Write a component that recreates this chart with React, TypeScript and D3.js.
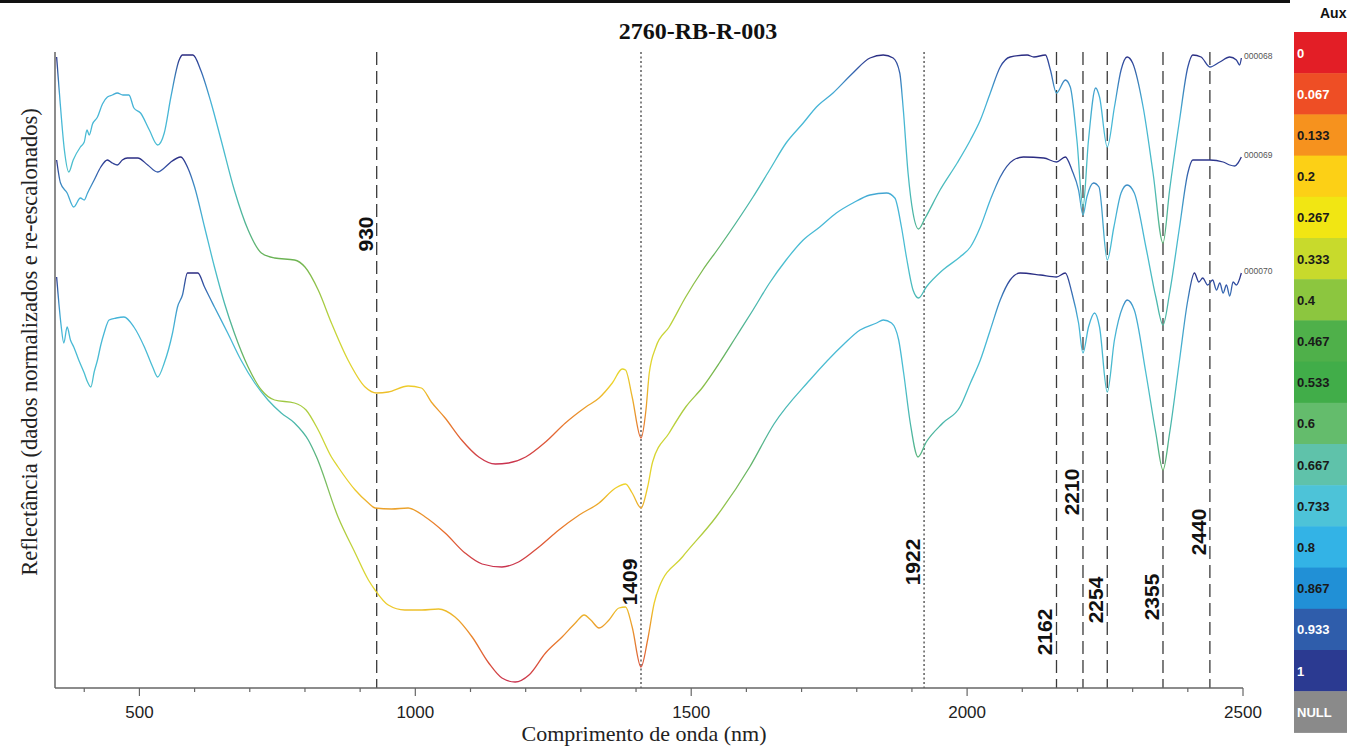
import React from 'react';
import * as d3 from 'd3';

// ---------- DATA ----------
const chartTitle = '2760-RB-R-003';
const xTitle = 'Comprimento de onda (nm)';
const yTitle = 'Reflectância (dados normalizados e re-escalonados)';

const xMajorTicks = [500, 1000, 1500, 2000, 2500];
const xMinorTicks = [400, 600, 700, 800, 900, 1100, 1200, 1300, 1400, 1600, 1700, 1800, 1900, 2100, 2200, 2300, 2400];

const dashedFeatures = [930, 2162, 2210, 2254, 2355, 2440];
const dottedFeatures = [1409, 1922];

const legendLabels = ['0', '0.067', '0.133', '0.2', '0.267', '0.333', '0.4', '0.467', '0.533', '0.6', '0.667', '0.733', '0.8', '0.867', '0.933', '1', 'NULL'];
const legendColors = ['#e31e26', '#ee4e25', '#f6921e', '#fcd016', '#f1e613', '#c8da2c', '#8cc63f', '#4fb04a', '#41ad49', '#64bc6c', '#5fc2aa', '#4dc3d8', '#33b3e6', '#2190d6', '#2f5dab', '#2b3a91', '#8a8a8a'];
const legendTitle = 'Aux';

const seriesNames = ['000068', '000069', '000070'];

// [wavelength nm, normalized + offset reflectance]
const spectrum068: [number, number][] = [
  [350, 631], [356, 588], [364, 538], [372, 516], [380, 528], [393, 541], [400, 546], [405, 558], [409, 553], [415, 564],
  [424, 571], [433, 584], [442, 591], [451, 593], [460, 595], [470, 593], [481, 593], [490, 580], [502, 575], [518, 558],
  [533, 543], [545, 555], [557, 591], [572, 628], [578, 633], [597, 633], [611, 618], [630, 585], [648, 548], [672, 498],
  [697, 458], [721, 435], [745, 430], [781, 428], [800, 421], [824, 398], [848, 365], [878, 328], [909, 301], [930, 295],
  [951, 296], [987, 302], [1011, 300], [1029, 286], [1054, 270], [1084, 248], [1115, 231], [1145, 224], [1169, 225], [1200, 231],
  [1236, 246], [1272, 265], [1309, 281], [1333, 290], [1357, 305], [1375, 319], [1381, 318], [1393, 291], [1409, 250], [1418, 278],
  [1424, 315], [1436, 341], [1460, 361], [1490, 391], [1521, 418], [1551, 441], [1581, 465], [1612, 491], [1642, 518], [1672, 545],
  [1703, 565], [1727, 581], [1757, 595], [1793, 615], [1824, 630], [1848, 633], [1866, 630], [1878, 615], [1884, 581], [1893, 515],
  [1902, 475], [1912, 459], [1924, 470], [1951, 498], [1982, 525], [2006, 548], [2024, 568], [2042, 595], [2060, 621], [2078, 631],
  [2109, 633], [2121, 631], [2142, 633], [2151, 618], [2162, 595], [2178, 608], [2187, 601], [2199, 548], [2210, 481], [2220, 548],
  [2233, 600], [2240, 591], [2254, 541], [2267, 581], [2279, 618], [2290, 631], [2300, 625], [2319, 581], [2337, 515], [2355, 445],
  [2367, 498], [2385, 568], [2400, 621], [2409, 633], [2424, 631], [2440, 621], [2458, 626], [2476, 631], [2488, 628], [2494, 623],
  [2497, 630],
];

const spectrum069: [number, number][] = [
  [350, 528], [357, 505], [369, 495], [381, 481], [393, 490], [400, 488], [406, 495], [418, 508], [430, 521], [442, 528],
  [451, 525], [460, 523], [469, 528], [478, 530], [497, 530], [515, 523], [533, 516], [545, 520], [557, 526], [575, 531],
  [587, 521], [600, 501], [618, 461], [636, 421], [654, 385], [672, 355], [697, 321], [721, 298], [745, 288], [781, 285],
  [802, 278], [824, 258], [848, 231], [860, 221], [891, 198], [915, 185], [927, 180], [957, 179], [987, 180], [1018, 171],
  [1054, 155], [1090, 135], [1121, 124], [1157, 121], [1187, 126], [1224, 141], [1260, 158], [1297, 173], [1333, 185], [1363, 200],
  [1381, 204], [1393, 195], [1409, 180], [1421, 201], [1430, 226], [1460, 255], [1490, 281], [1521, 301], [1551, 325], [1581, 351],
  [1612, 378], [1642, 405], [1672, 428], [1703, 448], [1733, 461], [1763, 475], [1793, 485], [1824, 493], [1854, 495], [1869, 490],
  [1881, 461], [1890, 431], [1902, 398], [1912, 390], [1926, 401], [1956, 418], [1987, 431], [2006, 441], [2024, 461], [2042, 488],
  [2060, 511], [2084, 528], [2102, 531], [2139, 530], [2162, 526], [2178, 531], [2190, 518], [2202, 498], [2210, 473], [2217, 491],
  [2229, 505], [2239, 501], [2254, 428], [2266, 461], [2279, 495], [2290, 503], [2303, 495], [2324, 441], [2342, 391], [2355, 363],
  [2367, 395], [2385, 461], [2400, 515], [2409, 528], [2440, 528], [2464, 526], [2476, 523], [2485, 522], [2491, 525], [2497, 531],
];

const spectrum070: [number, number][] = [
  [350, 411], [354, 385], [358, 363], [363, 345], [369, 361], [375, 348], [381, 341], [390, 328], [400, 315], [406, 306],
  [412, 301], [418, 316], [424, 328], [430, 343], [436, 355], [445, 368], [458, 370], [472, 371], [490, 361], [509, 341],
  [524, 321], [533, 311], [545, 325], [560, 355], [569, 381], [578, 393], [587, 415], [606, 415], [618, 401], [636, 381],
  [660, 355], [684, 328], [709, 305], [733, 288], [757, 275], [781, 265], [806, 248], [821, 231], [860, 171], [891, 135],
  [915, 108], [927, 98], [951, 83], [981, 78], [1012, 78], [1042, 79], [1072, 71], [1103, 51], [1133, 25], [1157, 10],
  [1181, 6], [1206, 13], [1236, 35], [1266, 51], [1290, 65], [1306, 73], [1318, 68], [1333, 60], [1351, 68], [1369, 80],
  [1381, 81], [1393, 61], [1409, 21], [1421, 48], [1433, 85], [1442, 101], [1484, 131], [1545, 171], [1606, 221], [1650, 264],
  [1715, 308], [1775, 343], [1806, 358], [1836, 365], [1848, 368], [1863, 365], [1876, 348], [1885, 315], [1897, 265], [1911, 231],
  [1926, 246], [1956, 265], [1987, 281], [2006, 305], [2024, 328], [2042, 358], [2060, 388], [2078, 408], [2096, 415], [2133, 413],
  [2162, 411], [2178, 415], [2190, 395], [2202, 365], [2210, 335], [2220, 361], [2231, 375], [2240, 361], [2254, 296], [2267, 348],
  [2282, 381], [2290, 388], [2303, 378], [2324, 315], [2342, 255], [2355, 218], [2367, 255], [2385, 328], [2400, 388], [2412, 415],
  [2420, 406], [2427, 410], [2436, 403], [2445, 408], [2452, 398], [2458, 405], [2464, 395], [2470, 403], [2476, 392], [2482, 406],
  [2488, 403], [2497, 415],
];

const allSpectra = [spectrum068, spectrum069, spectrum070];

// ---------- LAYOUT ----------
const W = 1347;
const H = 747;
const plotLeft = 55;
const plotRight = 1243;
const plotTop = 52;
const plotBottom = 688;

// label vertical centres (in px) for feature labels
const featureLabelY: Record<number, number> = {
  930: 234, 1409: 582, 1922: 562, 2162: 632, 2210: 492, 2254: 600, 2355: 597, 2440: 532,
};

const sans = '"Liberation Sans", Arial, Helvetica, sans-serif';
const serif = '"Liberation Serif", "Times New Roman", Times, serif';

const lineColor = d3
  .scaleLinear<string>()
  .domain([0, 0.08, 0.2, 0.35, 0.5, 0.6, 0.75, 0.9, 0.97, 1])
  .range(['#c8314f', '#e8692c', '#eed52a', '#bcd43c', '#6cb352', '#4bb5a0', '#4bbfd2', '#45b3d8', '#3355a8', '#2a2a80'])
  .clamp(true);

export default function App() {
  const x = d3.scaleLinear().domain([347, 2500]).range([plotLeft, plotRight]);
  const y = d3.scaleLinear().domain([0, 636]).range([plotBottom, plotTop]);
  const line = d3
    .line<[number, number]>()
    .x((d) => x(d[0]))
    .y((d) => y(d[1]))
    .curve(d3.curveMonotoneX);

  const gx0 = x(350);
  const gx1 = x(2500);

  const legendTop = 32;
  const legendH = 41.2;
  const legendX = 1294;

  return (
    <svg
      width={W}
      height={H}
      viewBox={`0 0 ${W} ${H}`}
      style={{ position: 'absolute', left: 0, top: 0, background: '#fff' }}
    >
      <defs>
        {allSpectra.map((s, i) => {
          const vals = s.map((d) => d[1]);
          const mn = d3.min(vals) as number;
          const mx = d3.max(vals) as number;
          return (
            <linearGradient key={i} id={`grad${i}`} gradientUnits="userSpaceOnUse" x1={gx0} x2={gx1} y1={0} y2={0}>
              {s.map((d, j) => (
                <stop
                  key={j}
                  offset={Math.max(0, Math.min(1, (x(d[0]) - gx0) / (gx1 - gx0)))}
                  stopColor={lineColor((d[1] - mn) / (mx - mn))}
                />
              ))}
            </linearGradient>
          );
        })}
      </defs>
      <rect x={0} y={0} width={W} height={H} fill="#fff" />
      <rect x={0} y={0} width={1290} height={3} fill="#111" />

      {/* title */}
      <text x={698} y={39} textAnchor="middle" fontFamily={serif} fontWeight="bold" fontSize={24} fill="#111">
        {chartTitle}
      </text>

      {/* feature lines */}
      {dashedFeatures.map((f) => (
        <line key={f} x1={x(f)} x2={x(f)} y1={plotTop} y2={plotBottom} stroke="#3a3a3a" strokeWidth={1.3} strokeDasharray="13,6" />
      ))}
      {dottedFeatures.map((f) => (
        <line key={f} x1={x(f)} x2={x(f)} y1={plotTop} y2={plotBottom} stroke="#444" strokeWidth={1.3} strokeDasharray="2,2.5" />
      ))}
      {[...dashedFeatures, ...dottedFeatures].map((f) => (
        <text
          key={`l${f}`}
          transform={`translate(${x(f) - 4},${featureLabelY[f]}) rotate(-90)`}
          textAnchor="middle"
          fontFamily={sans}
          fontWeight="bold"
          fontSize={21}
          fill="#111"
        >
          {f}
        </text>
      ))}

      {/* spectra */}
      {allSpectra.map((s, i) => (
        <path key={i} d={line(s) as string} fill="none" stroke={`url(#grad${i})`} strokeWidth={1.3} strokeLinejoin="round" />
      ))}
      {allSpectra.map((s, i) => {
        const last = s[s.length - 1];
        return (
          <text key={`n${i}`} x={x(2500) + 1} y={y(last[1]) + 1} fontFamily={sans} fontSize={8.5} fill="#555">
            {seriesNames[i]}
          </text>
        );
      })}

      {/* axes */}
      <line x1={plotLeft} x2={plotLeft} y1={plotTop} y2={plotBottom} stroke="#666" strokeWidth={1.5} />
      <line x1={plotLeft} x2={plotRight} y1={plotBottom} y2={plotBottom} stroke="#666" strokeWidth={1.5} />
      {xMinorTicks.map((t) => (
        <line key={`m${t}`} x1={x(t)} x2={x(t)} y1={plotBottom} y2={plotBottom + 4} stroke="#666" strokeWidth={1.2} />
      ))}
      {xMajorTicks.map((t) => (
        <g key={`M${t}`}>
          <line x1={x(t)} x2={x(t)} y1={plotBottom} y2={plotBottom + 8} stroke="#666" strokeWidth={1.2} />
          <text x={x(t)} y={718} textAnchor="middle" fontFamily={sans} fontSize={17} fill="#222">
            {t}
          </text>
        </g>
      ))}
      <text x={644} y={741} textAnchor="middle" fontFamily={serif} fontSize={22} fill="#222">
        {xTitle}
      </text>
      <text
        transform={`translate(37,342) rotate(-90)`}
        textAnchor="middle"
        fontFamily={serif}
        fontSize={22.5}
        fill="#222"
      >
        {yTitle}
      </text>

      {/* legend */}
      <text x={1320} y={18} fontFamily={sans} fontWeight="bold" fontSize={14} fill="#111">
        {legendTitle}
      </text>
      {legendLabels.map((lab, i) => {
        const white = i <= 1 || i >= 14;
        return (
          <g key={lab}>
            <rect x={legendX} y={legendTop + i * legendH} width={W - legendX} height={legendH + 0.5} fill={legendColors[i]} />
            <text
              x={legendX + 3}
              y={legendTop + i * legendH + legendH / 2 + 5}
              fontFamily={sans}
              fontWeight="bold"
              fontSize={13}
              fill={white ? '#fff' : '#1a1a1a'}
            >
              {lab}
            </text>
          </g>
        );
      })}
    </svg>
  );
}
